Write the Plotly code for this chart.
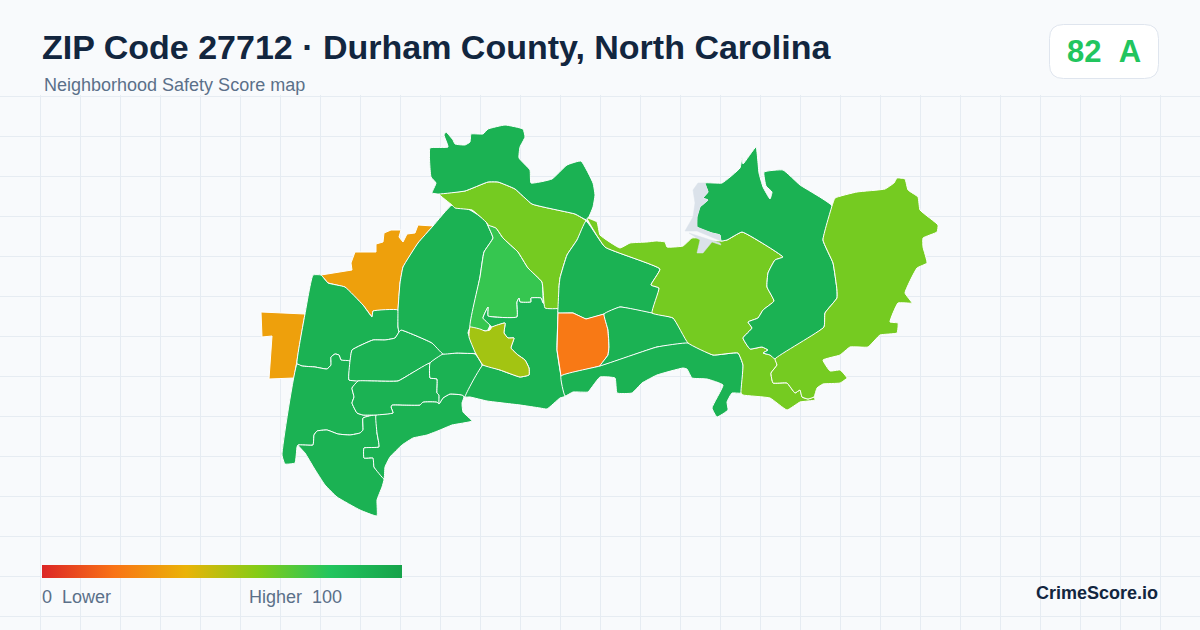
import plotly.graph_objects as go
from plotly.colors import sample_colorscale

# ---- text ----
title_text = "ZIP Code 27712 · Durham County, North Carolina"
subtitle_text = "Neighborhood Safety Score map"
score_text = "82\u00a0\u00a0A"
legend_low = "0\u00a0\u00a0Lower"
legend_high = "Higher\u00a0\u00a0100"
brand_text = "CrimeScore.io"

# ---- colour scale ----
score_scale = [[0.0, "#dc2626"], [0.2, "#f97316"], [0.4, "#eab308"],
               [0.6, "#84cc16"], [0.8, "#22c55e"], [1.0, "#16a34a"]]

# ---- neighbourhood scores ----
scores = {
    "amber_west": 34, "northwest": 91, "southwest": 91, "south_tip": 91, "south_coast": 91,
    "mid_north": 91, "mid_south": 91, "mid_east": 91, "central_north": 91, "central_light": 76,
    "central_olive": 54, "central_south": 91, "lime_centre": 63, "north": 91, "east_centre": 91,
    "orange_block": 22, "east_lower": 91, "south_shore": 91, "lime_big": 63, "dark_east": 91,
    "lime_east": 63,
}

# ---- outlines (map coordinates) ----
amber_west = [
    [(261,312),(305,314),(294,378),(269,379),(272,336),(262,337)],
    [(321,275),(352,270),(351,263),(355,252),(376,252),(376,244),(383,242),(384,233),(391,230),(401,230),
     (399,237),(403,242),(407,234),(415,233),(418,225),(433,226),(418,243),(403,267),(400,283),(398,310),
     (373,311),(372,317),(363,305),(345,287),(328,283)],
]
northwest = [(313,275),(321,275),(328,283),(345,287),(363,305),(372,317),(373,311),(398,310),(398,327),(399,332),
             (395,338),(385,340),(373,340),(352,350),(350,361),(341,360),(339,355),(335,354),(331,357),(331,365),
             (327,369),(315,367),(302,366),(297,364),(305,314)]
southwest = [(297,364),(302,366),(315,367),(327,369),(331,365),(331,357),(335,354),(339,355),(341,360),(350,361),
             (349,380),(358,381),(352,388),(354,397),(352,403),(357,413),(363,415),(376,415),(363,418),(363,430),
             (360,433),(350,435),(338,434),(327,430),(317,431),(314,435),(313,445),(298,445),(297,447),(295,463),
             (285,464),(282,455)]
south_tip = [(298,445),(313,445),(314,435),(317,431),(327,430),(338,434),(350,435),(360,433),(363,430),(363,418),
             (376,415),(377,433),(379,447),(364,448),(364,458),(373,458),(374,467),(384,479),(382,487),(377,500),
             (377,516),(360,510),(337,497),(325,485),(314,468),(305,453)]
south_coast = [(376,415),(393,413),(391,407),(392,405),(403,405),(420,405),(423,402),(437,402),(439,404),(443,398),
               (450,394),(462,395),(464,397),(462,403),(463,412),(472,421),(452,425),(440,430),(427,435),(413,438),
               (402,445),(390,457),(385,467),(384,479),(374,467),(373,458),(364,458),(364,448),(379,447),(377,433)]
mid_north = [(350,361),(352,350),(373,340),(385,340),(395,338),(399,332),(401,330),(432,343),(443,354),(430,363),
             (412,373),(398,381),(373,381),(349,380)]
mid_south = [(358,381),(373,381),(398,381),(412,373),(430,363),(430,378),(437,379),(437,393),(439,395),(439,404),
             (437,402),(423,402),(420,405),(403,405),(392,405),(391,407),(393,413),(376,415),(363,415),(357,413),
             (352,403),(354,397),(352,388)]
mid_east = [(430,363),(443,354),(457,353),(475,354),(482,365),(465,397),(462,395),(450,394),(443,398),(439,404),
            (439,395),(437,393),(437,379),(430,378)]
central_north = [(452,205),(470,210),(485,220),(489,228),(493,238),(484,252),(480,277),(470,327),(468,333),(477,353),
                 (457,353),(443,354),(432,343),(401,330),(399,332),(398,327),(398,310),(400,283),(403,267),(418,243),(433,226)]
central_light = [(488,225),(496,228),(503,238),(518,252),(528,268),(542,282),(543,303),(541,298),(531,298),(531,302),
                 (520,302),(519,298),(517,302),(517,317),(488,316),(488,307),(483,318),(490,325),(487,331),(480,330),
                 (470,327),(480,277),(484,252),(493,238),(489,228)]
central_olive = [(470,327),(480,329),(485,331),(490,330),(492,327),(505,323),(504,333),(508,338),(514,338),(511,348),
                 (518,355),(525,360),(529,368),(529,375),(520,377),(500,370),(483,365),(475,352),(469,337)]
central_south = [(483,365),(465,397),(470,397),(487,401),(503,403),(520,405),(540,408),(547,409),(560,398),(566,396),
                 (561,376),(557,350),(558,313),(558,308),(543,303),(541,298),(531,298),(531,302),(520,302),(519,298),
                 (517,302),(517,317),(488,316),(488,307),(483,318),(490,325),(492,327),(505,323),(504,333),(508,338),
                 (514,338),(511,348),(518,355),(525,360),(529,368),(529,375),(520,377),(500,370)]
lime_centre = [(439,194),(465,191),(488,182),(498,182),(515,189),(532,204),(575,214),(586,221),(577,240),(567,255),
               (560,278),(559,287),(560,308),(545,308),(542,282),(528,268),(518,252),(503,238),(496,228),(488,225),
               (487,223),(472,210),(455,208),(452,205)]
north = [(430,148),(448,147),(444,135),(446,132),(453,140),(455,144),(465,145),(470,142),(471,134),(483,134),
         (488,129),(505,125),(523,129),(525,137),(520,147),(519,158),(530,170),(531,183),(552,179),(567,165),
         (581,161),(593,183),(595,195),(593,207),(587,220),(575,214),(532,204),(515,189),(498,182),(488,182),
         (465,191),(439,194),(432,193),(436,183),(431,177)]
east_centre = [(586,221),(605,247),(660,269),(651,285),(659,288),(652,313),(620,307),(604,314),(586,319),(573,313),
               (558,313),(558,308),(559,287),(560,278),(567,255),(577,240)]
orange_block = [(558,313),(573,313),(586,319),(604,314),(608,330),(609,347),(608,355),(600,366),(561,376),(557,350)]
east_lower = [(604,314),(620,307),(652,313),(673,318),(688,343),(657,347),(600,366),(608,355),(609,347),(608,330)]
south_shore = [(561,376),(600,366),(657,347),(688,343),(713,355),(738,353),(743,365),(741,393),(732,393),(727,402),
               (728,410),(717,417),(712,408),(723,385),(707,379),(692,378),(687,369),(683,368),(657,375),(642,383),
               (632,393),(617,393),(615,378),(600,377),(592,387),(588,392),(573,392),(565,396)]
lime_big = [(587,218),(597,222),(600,235),(620,248),(630,243),(647,242),(656,241),(665,242),(667,247),(683,246),
            (692,238),(699,238),(702,240),(721,241),(727,240),(742,232),(767,246),(783,257),(775,260),(768,273),
            (767,287),(774,301),(763,310),(758,318),(748,322),(752,328),(743,338),(750,349),(762,347),(768,350),
            (763,353),(770,355),(775,358),(777,365),(771,373),(773,383),(787,383),(795,393),(800,390),(802,397),
            (808,399),(814,397),(815,400),(800,402),(787,410),(770,398),(743,395),(741,393),(743,365),(738,353),
            (713,355),(688,343),(673,318),(652,313),(659,288),(651,285),(660,269),(605,247)]
dark_east = [(705,183),(722,183),(740,168),(742,157),(743,164),(756,147),(759,173),(763,187),(770,199),(772,192),
             (766,186),(764,172),(783,170),(800,185),(832,206),(823,240),(833,263),(837,290),(837,298),(825,313),
             (824,327),(775,359),(770,355),(763,353),(768,350),(762,347),(750,349),(743,338),(752,328),(748,322),
             (758,318),(763,310),(774,301),(767,287),(768,273),(775,260),(783,257),(767,246),(742,232),(727,240),
             (721,241),(720,235),(712,233),(697,227),(697,217),(700,207),(708,200),(703,198),(708,192)]
lime_east = [(832,206),(835,198),(857,192),(885,189),(894,183),(897,178),(905,179),(908,190),(918,197),(920,210),
             (938,225),(937,232),(923,238),(923,247),(927,263),(917,268),(905,293),(912,303),(898,303),(890,322),
             (898,323),(897,333),(880,335),(868,347),(850,347),(840,355),(823,360),(830,371),(840,370),(847,378),
             (840,383),(823,384),(817,388),(814,397),(808,399),(802,397),(800,390),(795,393),(787,383),(773,383),
             (771,373),(777,365),(775,359),(824,327),(825,313),(837,298),(837,290),(833,263),(823,240)]
water_north = [(698,183),(705,183),(708,192),(703,198),(708,200),(700,207),(697,217),(697,227),(712,233),(720,235),
               (721,241),(697,231),(685,231),(693,217),(695,203),(693,190)]
water_south = [(689,233),(720,243),(721,245),(712,242),(703,253),(697,253),(700,240)]

regions = {
    "amber_west": amber_west, "northwest": [northwest], "southwest": [southwest], "south_tip": [south_tip],
    "south_coast": [south_coast], "mid_north": [mid_north], "mid_south": [mid_south], "mid_east": [mid_east],
    "central_north": [central_north], "central_light": [central_light], "central_south": [central_south],
    "central_olive": [central_olive], "lime_centre": [lime_centre], "north": [north],
    "east_centre": [east_centre], "orange_block": [orange_block], "east_lower": [east_lower],
    "south_shore": [south_shore], "lime_big": [lime_big], "dark_east": [dark_east], "lime_east": [lime_east],
}
angular = {"amber_west", "orange_block"}

BG, GRID, INK, MUTED, GREEN = "#f8fafc", "#e6ecf2", "#12263f", "#5b7089", "#22c55e"
W, H, TOP = 1200, 630, 95


def py(y):
    return 1 - y / H


fig = go.Figure()


def add_poly(rings, fill, line="#ffffff", width=1.0, shape="linear"):
    for ring in rings:
        xs = [p[0] for p in ring] + [ring[0][0]]
        ys = [p[1] for p in ring] + [ring[0][1]]
        fig.add_trace(go.Scatter(x=xs, y=ys, mode="lines", fill="toself", fillcolor=fill,
                                 line=dict(color=line, width=width, shape=shape, smoothing=0.35),
                                 hoverinfo="skip", showlegend=False))


for name, rings in regions.items():
    add_poly(rings, sample_colorscale(score_scale, scores[name] / 100)[0],
             shape="linear" if name in angular else "spline")
add_poly([water_north, water_south], "#dbe2ea", line="#dbe2ea", width=0.5)

# legend gradient bar, drawn from the same colour scale
fig.add_trace(go.Scatter(x=[42, 402, 402, 42, 42], y=[565, 565, 578, 578, 565], mode="lines", fill="toself",
                         line=dict(width=0, color="rgba(0,0,0,0)"), hoverinfo="skip", showlegend=False,
                         fillgradient=dict(type="horizontal", colorscale=score_scale, start=42, stop=402)))

annos = [
    dict(text=f"<b>{title_text}</b>", x=40, y=47, size=34, color=INK, anchor="left"),
    dict(text=subtitle_text, x=42, y=85, size=18, color=MUTED, anchor="left"),
    dict(text=f"<b>{score_text}</b>", x=1104, y=51, size=31, color=GREEN, anchor="center"),
    dict(text=legend_low, x=40, y=597, size=18, color=MUTED, anchor="left"),
    dict(text=legend_high, x=247, y=597, size=18, color=MUTED, anchor="left"),
    dict(text=f"<b>{brand_text}</b>", x=1160, y=593, size=18, color=INK, anchor="right"),
]
r = 14
x0, x1, y0, y1 = 1049.5 / W, 1158.5 / W, py(24.5), py(78.5)
rx, ry = r / W, r / H
badge = (f"M{x0+rx},{y0} L{x1-rx},{y0} Q{x1},{y0} {x1},{y0-ry} L{x1},{y1+ry} Q{x1},{y1} {x1-rx},{y1} "
         f"L{x0+rx},{y1} Q{x0},{y1} {x0},{y1+ry} L{x0},{y0-ry} Q{x0},{y0} {x0+rx},{y0} Z")

fig.update_layout(
    width=W, height=H, margin=dict(l=0, r=0, t=0, b=0),
    paper_bgcolor=BG, plot_bgcolor=BG, showlegend=False, hovermode=False,
    font=dict(family="Liberation Sans, Arial, sans-serif"),
    xaxis=dict(range=[0, W], domain=[0, 1], tick0=0.5, dtick=40, showgrid=True, gridcolor=GRID, gridwidth=1,
               zeroline=False, showticklabels=False, ticks="", fixedrange=True),
    yaxis=dict(range=[H, TOP], domain=[0, 1 - TOP / H], tick0=96.5, dtick=40, showgrid=True, gridcolor=GRID, gridwidth=1,
               zeroline=False, showticklabels=False, ticks="", fixedrange=True),
    shapes=[dict(type="path", path=badge, xref="paper", yref="paper", fillcolor="#ffffff",
                 line=dict(color="#dfe5ee", width=1), layer="below")],
    annotations=[dict(text=a["text"], x=a["x"] / W, y=py(a["y"]), xref="paper", yref="paper", showarrow=False,
                      xanchor=a["anchor"], yanchor="middle", font=dict(size=a["size"], color=a["color"])) for a in annos],
)

fig.write_html("out.html", config=dict(displayModeBar=False, staticPlot=True),
               post_script="document.body.style.margin='0';document.body.style.background='#f8fafc';")
